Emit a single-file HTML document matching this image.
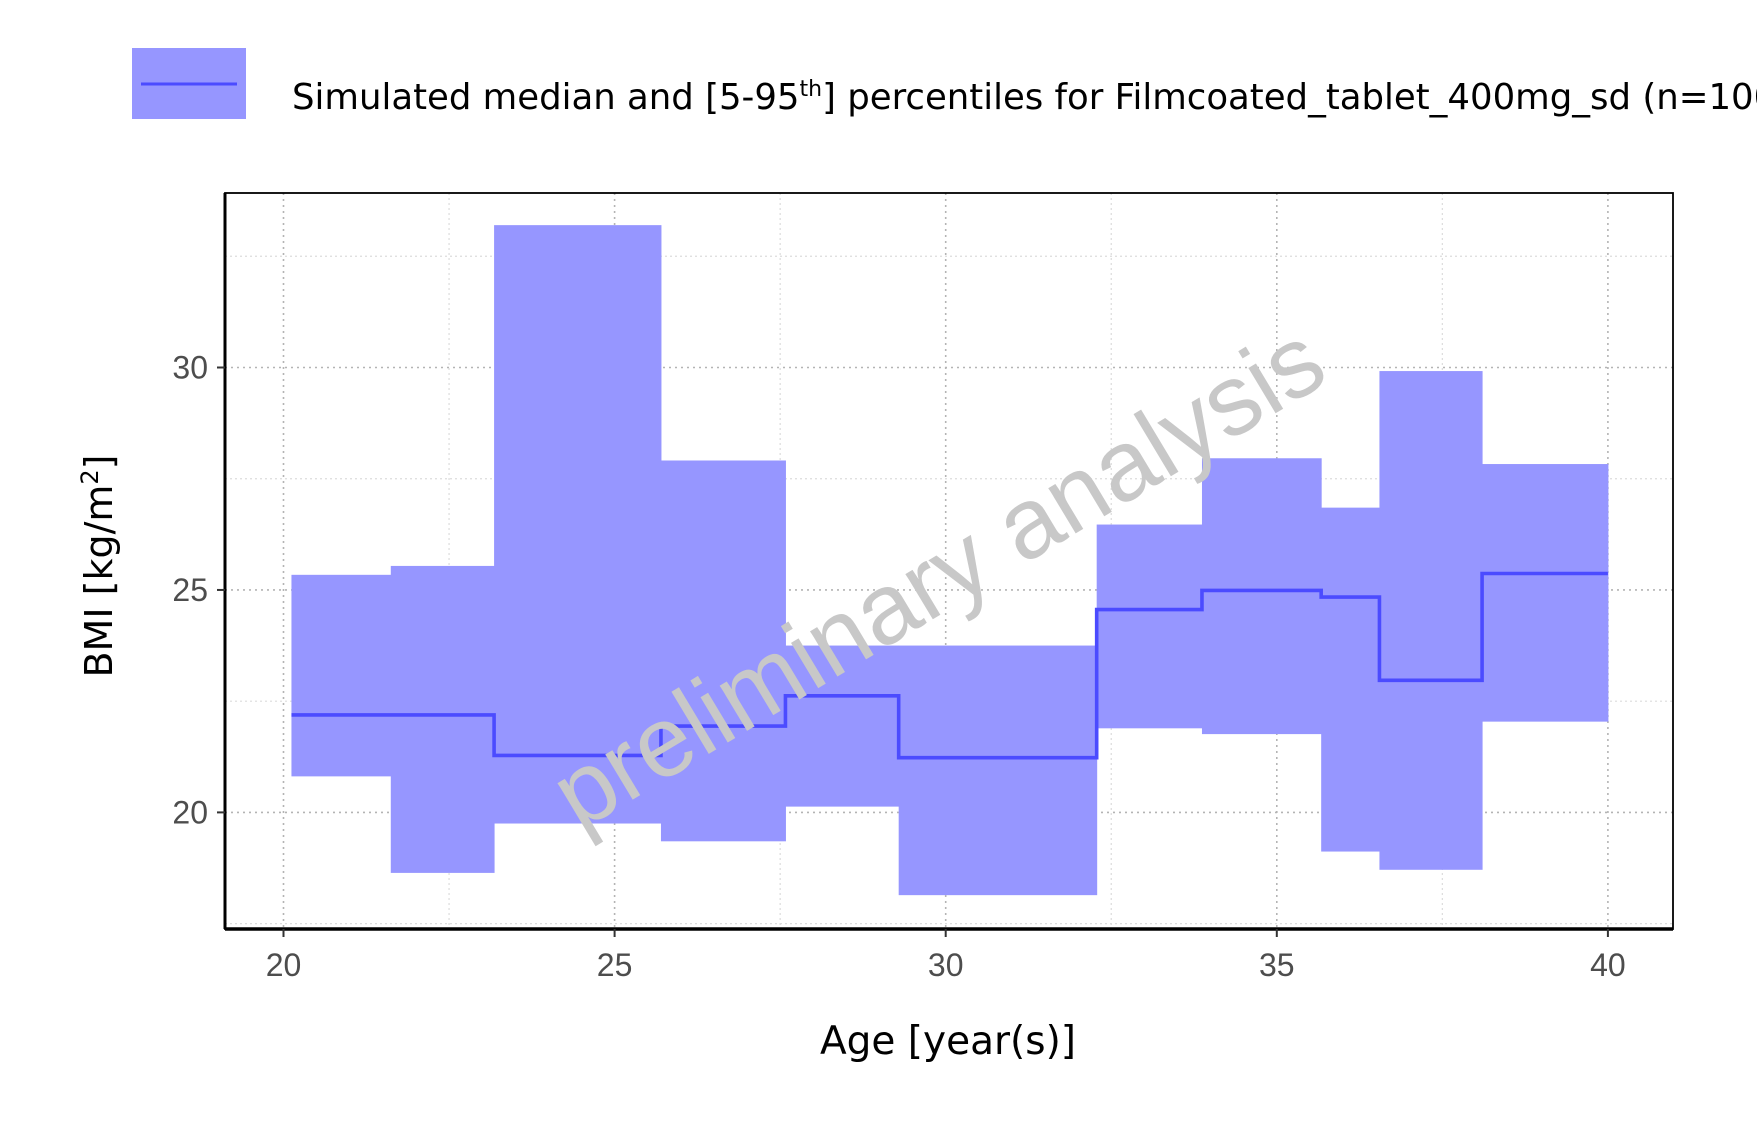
<!DOCTYPE html>
<html><head><meta charset="utf-8"><style>
html,body{margin:0;padding:0;background:#fff;overflow:hidden;}
svg{display:block;font-family:"Liberation Sans","DejaVu Sans",sans-serif;}
</style></head><body>
<svg id="chart" width="1757" height="1147" viewBox="0 0 1757 1147">
<g id="grid"></g>
<g id="marks"></g>
<text x="940" y="610" font-size="100" fill="#c8c8c8" text-anchor="middle" transform="rotate(-31 940 580)">preliminary analysis</text>
<g id="axes"></g>
<g>
<rect x="132" y="48" width="114" height="71" fill="#9696ff"/>
<line x1="141" y1="84" x2="237" y2="84" stroke="#4b4bff" stroke-width="3"/>
<text x="292" y="109" font-size="35.5" fill="#000" style="font-family:'DejaVu Sans',sans-serif">Simulated median and [5-95<tspan font-size="22" dy="-13">th</tspan><tspan dy="13">] percentiles for Filmcoated_tablet_400mg_sd (n=100)</tspan></text>
</g>
<text x="948" y="1054" font-size="39" text-anchor="middle" fill="#000" style="font-family:'DejaVu Sans',sans-serif">Age [year(s)]</text>
<text x="0" y="0" font-size="38" text-anchor="middle" fill="#000" style="font-family:'DejaVu Sans',sans-serif" transform="translate(112 566) rotate(-90)">BMI [kg/m<tspan font-size="24" dy="-14">2</tspan><tspan dy="14">]</tspan></text>
</svg>
<script>
const binEdges=[20.12,21.62,23.18,25.70,27.58,29.29,32.28,33.87,35.67,36.55,38.10,40.0];
const upper=[25.34,25.54,33.2,27.91,23.75,23.75,26.47,27.96,26.85,29.92,27.83];
const lower=[20.81,18.64,19.75,19.35,20.13,18.14,21.89,21.76,19.12,18.71,22.04];
const median=[22.19,22.19,21.28,21.94,22.62,21.23,24.56,24.99,24.84,22.97,25.37];
const xTicks=[20,25,30,35,40];
const xMinor=[22.5,27.5,32.5,37.5];
const yTicks=[20,25,30];
const yMinor=[17.5,22.5,27.5,32.5];
const NS='http://www.w3.org/2000/svg';
const L=225,R=1673,T=193,B=929;
const xs=v=>283.5+(v-20)*66.22;
const ys=v=>812.4-(v-20)*44.49;
function mk(parent,tag,attrs){const e=document.createElementNS(NS,tag);for(const k in attrs)e.setAttribute(k,attrs[k]);parent.appendChild(e);return e;}
const grid=document.getElementById('grid'),marks=document.getElementById('marks'),axes=document.getElementById('axes');
xMinor.forEach(v=>{const e=mk(grid,'line',{x1:xs(v),x2:xs(v),y1:T,y2:B,stroke:'#dcdcdc','stroke-width':1.2,'stroke-dasharray':'2 3'});

});
yMinor.forEach(v=>{const e=mk(grid,'line',{x1:L,x2:R,y1:ys(v),y2:ys(v),stroke:'#dcdcdc','stroke-width':1.2,'stroke-dasharray':'2 3'});

});
xTicks.forEach(v=>{const e=mk(grid,'line',{x1:xs(v),x2:xs(v),y1:T,y2:B,stroke:'#b4b4b4','stroke-width':1.6,'stroke-dasharray':'2 4'});

});
yTicks.forEach(v=>{const e=mk(grid,'line',{x1:L,x2:R,y1:ys(v),y2:ys(v),stroke:'#b4b4b4','stroke-width':1.6,'stroke-dasharray':'2 4'});

});
upper.forEach((u,i)=>{const x0=xs(binEdges[i]),x1=xs(binEdges[i+1]);
const r=mk(marks,'rect',{x:x0,y:ys(u),width:x1-x0+0.5,height:ys(lower[i])-ys(u),fill:'#9696ff'});

});
let d='';median.forEach((m,i)=>{d+=(i?'L':'M')+xs(binEdges[i])+' '+ys(m)+' L'+xs(binEdges[i+1])+' '+ys(m)+' ';});
const p=mk(marks,'path',{d:d,fill:'none',stroke:'#4b4bff','stroke-width':3.6});


const fr=mk(axes,'rect',{x:L,y:T,width:R-L,height:B-T,fill:'none',stroke:'#000','stroke-width':1.8});


const ax=mk(axes,'line',{x1:L,x2:R,y1:B,y2:B,stroke:'#000','stroke-width':3.5});


const ay=mk(axes,'line',{x1:L,x2:L,y1:T,y2:B,stroke:'#000','stroke-width':3});


xTicks.forEach(v=>{const t=mk(axes,'line',{x1:xs(v),x2:xs(v),y1:B,y2:B+8,stroke:'#333','stroke-width':2});


const l=mk(axes,'text',{x:xs(v),y:976,'font-size':32,fill:'#4d4d4d','text-anchor':'middle'});l.textContent=v;

});
yTicks.forEach(v=>{const t=mk(axes,'line',{x1:L-8,x2:L,y1:ys(v),y2:ys(v),stroke:'#333','stroke-width':2});


const l=mk(axes,'text',{x:208,y:ys(v)+11,'font-size':32,fill:'#4d4d4d','text-anchor':'end'});l.textContent=v;

});
</script>
</body></html>
